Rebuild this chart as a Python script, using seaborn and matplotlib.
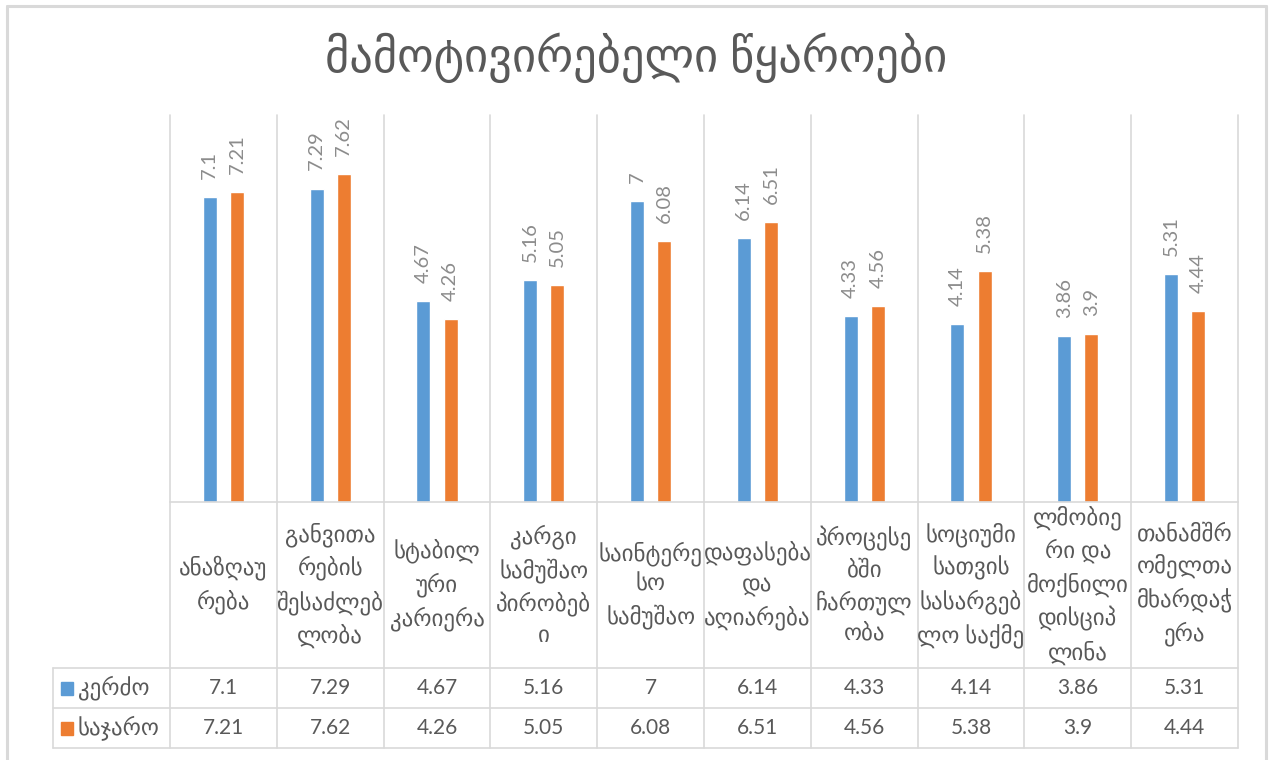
import matplotlib
matplotlib.use("Agg")
import matplotlib.pyplot as plt
import seaborn as sns
import pandas as pd
from matplotlib.lines import Line2D
from matplotlib.patches import Rectangle

# ---- data ----
title = "მამოტივირებელი წყაროები"
categories = [
    "ანაზღაუ\nრება",
    "განვითა\nრების\nშესაძლებ\nლობა",
    "სტაბილ\nური\nკარიერა",
    "კარგი\nსამუშაო\nპირობებ\nი",
    "საინტერე\nსო\nსამუშაო",
    "დაფასება\nდა\nაღიარება",
    "პროცესე\nბში\nჩართულ\nობა",
    "სოციუმი\nსათვის\nსასარგებ\nლო საქმე",
    "ლმობიე\nრი და\nმოქნილი\nდისციპ\nლინა",
    "თანამშრ\nომელთა\nმხარდაჭ\nერა",
]
series_names = ["კერძო", "საჯარო"]
private_values = [7.1, 7.29, 4.67, 5.16, 7, 6.14, 4.33, 4.14, 3.86, 5.31]
public_values = [7.21, 7.62, 4.26, 5.05, 6.08, 6.51, 4.56, 5.38, 3.9, 4.44]
series_colors = ["#5B9BD5", "#ED7D31"]

df = pd.DataFrame({
    "category": categories * 2,
    "series": [series_names[0]] * len(categories) + [series_names[1]] * len(categories),
    "value": private_values + public_values,
})

# ---- style ----
sns.set_style("white")
plt.rcParams["font.family"] = ["Lato", "DejaVu Sans"]
text_gray = "#595959"
label_gray = "#8c8c8c"
grid_gray = "#d9d9d9"

W, H = 1272, 760
fig = plt.figure(figsize=(W / 100, H / 100), dpi=100)

# pixel layout of the plot area and the data table
plot_left, plot_right = 170, 1238
plot_top, plot_bottom = 115, 502
table_left, table_bottom = 53, 748
row1_top, row2_top = 668, 708
cell_w = (plot_right - plot_left) / len(categories)

ax = fig.add_axes([plot_left / W, 1 - plot_bottom / H,
                   (plot_right - plot_left) / W, (plot_bottom - plot_top) / H])
sns.barplot(data=df, x="category", y="value", hue="series", order=categories,
            hue_order=series_names, palette=series_colors, width=0.512, gap=0.49,
            saturation=1, legend=False, ax=ax)
ax.set_xlim(-0.5, len(categories) - 0.5)
ax.set_ylim(0, 9)
ax.set_xticks([])
ax.set_yticks([])
ax.set_xlabel("")
ax.set_ylabel("")
for s in ax.spines.values():
    s.set_visible(False)
for k in range(len(categories) + 1):
    ax.axvline(k - 0.5, color=grid_gray, lw=1.2, zorder=0, clip_on=False)

for cont in ax.containers:
    ax.bar_label(cont, fmt="{:g}", rotation=90, padding=13, color=label_gray,
                 fontsize=14.5)

# ---- data table ----
tax = fig.add_axes([table_left / W, 1 - table_bottom / H,
                    (plot_right - table_left) / W, (table_bottom - plot_bottom) / H])
x_left = -0.5 - (plot_left - table_left) / cell_w
tax.set_xlim(x_left, len(categories) - 0.5)
tax.set_ylim(table_bottom - plot_bottom, 0)
tax.axis("off")

y1 = row1_top - plot_bottom
y2 = row2_top - plot_bottom
y3 = table_bottom - plot_bottom
line_kw = dict(color=grid_gray, lw=1.2, clip_on=False)
tax.add_line(Line2D([-0.5, len(categories) - 0.5], [0, 0], **line_kw))
for yy in (y1, y2, y3):
    tax.add_line(Line2D([x_left, len(categories) - 0.5], [yy, yy], **line_kw))
for k in range(len(categories) + 1):
    tax.add_line(Line2D([k - 0.5, k - 0.5], [0, y3], **line_kw))
tax.add_line(Line2D([x_left, x_left], [y1, y3], **line_kw))

for i, cat in enumerate(categories):
    tax.text(i, y1 / 2, cat, ha="center", va="center", fontsize=16.5,
             color=text_gray, linespacing=1.48)

rows = [private_values, public_values]
row_centers = [(y1 + y2) / 2, (y2 + y3) / 2]
for name, vals, color, yc in zip(series_names, rows, series_colors, row_centers):
    for i, v in enumerate(vals):
        tax.text(i, yc, f"{v:g}", ha="center", va="center", fontsize=15,
                 color=text_gray)
    key_x = x_left + 8 / cell_w
    tax.add_patch(Rectangle((key_x, yc - 6.5), 12 / cell_w, 13, color=color,
                            clip_on=False))
    tax.text(x_left + 25 / cell_w, yc, name, ha="left", va="center", fontsize=16.5,
             color=text_gray)

# ---- title and frame ----
fig.text(0.5, 1 - 58 / H, title, ha="center", va="center", fontsize=33.5,
         color=text_gray)
frame_kw = dict(color=grid_gray, lw=2.2, transform=fig.transFigure)
fig.add_artist(Line2D([7 / W, 7 / W], [0, 1 - 6 / H], **frame_kw))
fig.add_artist(Line2D([7 / W, 1266 / W], [1 - 6 / H, 1 - 6 / H], **frame_kw))
fig.add_artist(Line2D([1266 / W, 1266 / W], [0, 1 - 6 / H], **frame_kw))

fig.savefig("out.png", dpi=100, facecolor="white")
